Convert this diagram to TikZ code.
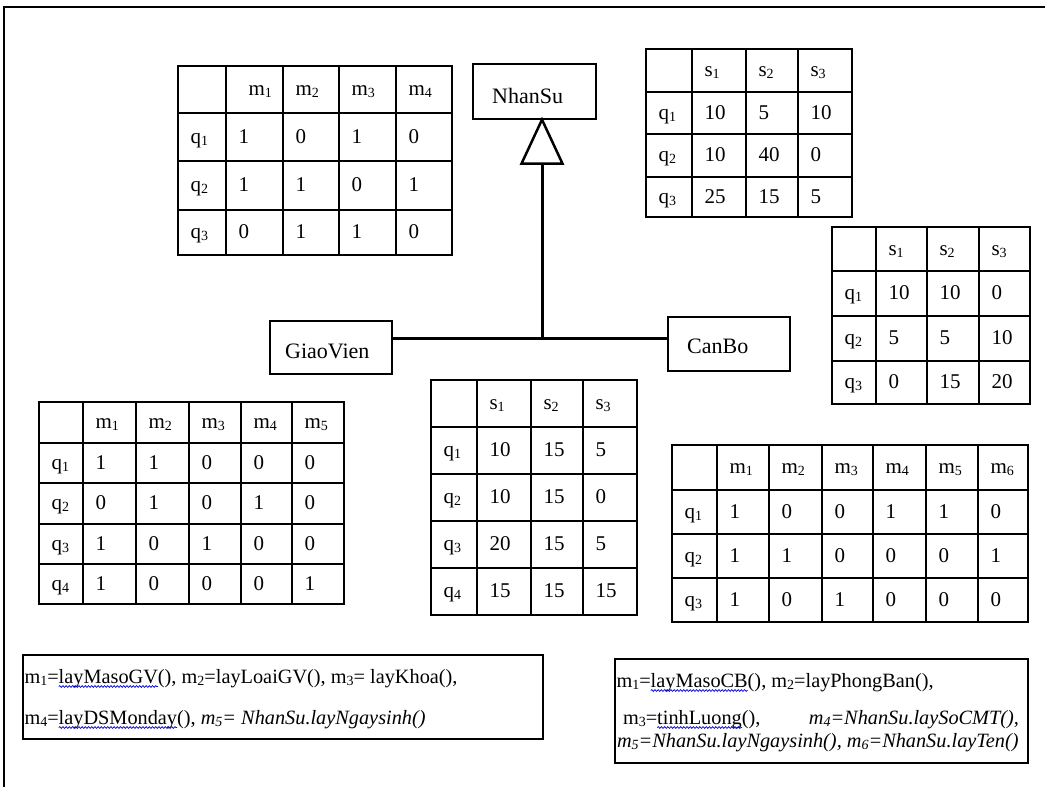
\documentclass[tikz,border=0pt]{standalone}
\usepackage{fontspec}
\setmainfont{Liberation Serif}
\usetikzlibrary{calc,decorations.pathmorphing}
\newcommand\ix[1]{\raisebox{-2pt}{\fontsize{14}{14}\selectfont #1}}
\newcommand\tgrid[6]{%
  \foreach \gx in {#1} {\draw[gridline] (\gx,#5) -- (\gx,#6);}
  \foreach \gy in {#2} {\draw[gridline] (#3,\gy) -- (#4,\gy);}}
\newcommand\trow[4]{%
  \foreach \txt [count=\i] in {#4} {%
    \pgfmathsetmacro\xx{{#2}[\i-1]+12.5}%
    \node[cell] (#1-\i) at (\xx,#3) {\txt};}}
\begin{document}
\begin{tikzpicture}[x=1pt,y=-1pt,
  gridline/.style={line width=1.3pt,line cap=rect},
  cell/.style={anchor=base west,inner sep=0pt,outer sep=0pt,font=\fontsize{21}{24}\selectfont},
  txt/.style={anchor=base west,inner sep=0pt,outer sep=0pt,font=\fontsize{20.3}{24}\selectfont},
  umlbox/.style={draw,line width=1.3pt,inner sep=0pt},
  ulbl/.style={anchor=base west,inner sep=0pt,font=\fontsize{22}{26}\selectfont},
  conn/.style={line width=3pt},
  tri/.style={line width=2.5pt,line join=miter},
  tbox/.style={draw,line width=1.4pt,inner sep=0pt},
  wavy/.style={draw=blue!85!black,line width=0.7pt,decorate,decoration={snake,amplitude=0.9pt,segment length=3.2pt}},
  frameline/.style={line width=1.6pt}]
\useasboundingbox (0,0) rectangle (1045,787);
\draw[frameline] (4,787) -- (4,7) -- (1045,7);

% ---------- UML ----------
\node[umlbox,minimum width=123pt,minimum height=55pt] (ns) at (534.5,91.5) {};
\node[ulbl] (nsl) at (492,103) {NhanSu};
\node[umlbox,minimum width=122pt,minimum height=53pt] (gv) at (331,347.5) {};
\node[ulbl] (gvl) at (285,358) {GiaoVien};
\node[umlbox,minimum width=122pt,minimum height=54pt] (cb) at (729,344) {};
\node[ulbl] (cbl) at (687,353) {CanBo};
\coordinate (apex) at ($(ns.south)+(7.5,0)$);
\coordinate (J) at (542,338);
\draw[tri] (apex) -- ++(-20.5,44) -- ++(41,0) -- cycle;
\draw[conn] ($(apex)+(0,44)$) -- (J);
\draw[conn] (gv.east |- J) -- (cb.west |- J);

% ---------- Table A ----------
\tgrid{178,226,283,339,396,452}{66,113,161,210,255}{178}{452}{66}{255}
\trow{Ah}{226,283,339,396}{95.5}{\hspace{10pt}m\ix{1},m\ix{2},m\ix{3},m\ix{4}}
\trow{A1}{178,226,283,339,396}{143}{q\ix{1},1,0,1,0}
\trow{A2}{178,226,283,339,396}{191.5}{q\ix{2},1,1,0,1}
\trow{A3}{178,226,283,339,396}{238.5}{q\ix{3},0,1,1,0}

% ---------- Table B ----------
\tgrid{646,692,746,798,852}{49,92,134,177,217}{646}{852}{49}{217}
\trow{Bh}{692,746,798}{76.5}{s\ix{1},s\ix{2},s\ix{3}}
\trow{B1}{646,692,746,798}{119}{q\ix{1},10,5,10}
\trow{B2}{646,692,746,798}{161.5}{q\ix{2},10,40,0}
\trow{B3}{646,692,746,798}{203}{q\ix{3},25,15,5}

% ---------- Table C ----------
\tgrid{832,876,927,979,1030}{227,271,316,361,404}{832}{1030}{227}{404}
\trow{Ch}{876,927,979}{255}{s\ix{1},s\ix{2},s\ix{3}}
\trow{C1}{832,876,927,979}{299.5}{q\ix{1},10,10,0}
\trow{C2}{832,876,927,979}{344.5}{q\ix{2},5,5,10}
\trow{C3}{832,876,927,979}{388.5}{q\ix{3},0,15,20}

% ---------- Table D ----------
\tgrid{39,83,136,189,241,292,344}{402,443,483,524,564,604}{39}{344}{402}{604}
\trow{Dh}{83,136,189,241,292}{428.5}{m\ix{1},m\ix{2},m\ix{3},m\ix{4},m\ix{5}}
\trow{D1}{39,83,136,189,241,292}{469}{q\ix{1},1,1,0,0,0}
\trow{D2}{39,83,136,189,241,292}{509.5}{q\ix{2},0,1,0,1,0}
\trow{D3}{39,83,136,189,241,292}{550}{q\ix{3},1,0,1,0,0}
\trow{D4}{39,83,136,189,241,292}{590}{q\ix{4},1,0,0,0,1}

% ---------- Table E ----------
\tgrid{431,477,531,583,637}{380,427,474,521,568,615}{431}{637}{380}{615}
\trow{Eh}{477,531,583}{409.5}{s\ix{1},s\ix{2},s\ix{3}}
\trow{E1}{431,477,531,583}{456.5}{q\ix{1},10,15,5}
\trow{E2}{431,477,531,583}{503.5}{q\ix{2},10,15,0}
\trow{E3}{431,477,531,583}{550.5}{q\ix{3},20,15,5}
\trow{E4}{431,477,531,583}{597.5}{q\ix{4},15,15,15}

% ---------- Table F ----------
\tgrid{672,717,769,822,873,926,978,1028}{445,490,534,578,622}{672}{1028}{445}{622}
\trow{Fh}{717,769,822,873,926,978}{473.5}{m\ix{1},m\ix{2},m\ix{3},m\ix{4},m\ix{5},m\ix{6}}
\trow{F1}{672,717,769,822,873,926,978}{518}{q\ix{1},1,0,0,1,1,0}
\trow{F2}{672,717,769,822,873,926,978}{562}{q\ix{2},1,1,0,0,0,1}
\trow{F3}{672,717,769,822,873,926,978}{606}{q\ix{3},1,0,1,0,0,0}

% ---------- Left text box ----------
\node[tbox,minimum width=520pt,minimum height=84pt] (lbox) at (283,697) {};
\node[txt] (l1a) at (24.5,683) {m\ix{1}=};
\node[txt] (l1b) at (l1a.base east) {layMasoGV};
\node[txt] (l1c) at (l1b.base east) {(), m\ix{2}=layLoaiGV(), m\ix{3}= layKhoa(),};
\draw[wavy] ($(l1b.base west)+(0,3.5)$) -- ($(l1b.base east)+(0,3.5)$);
\node[txt] (l2a) at (24.5,724) {m\ix{4}=};
\node[txt] (l2b) at (l2a.base east) {layDSMonday};
\node[txt] (l2c) at (l2b.base east) {(), \textit{m\ix{5}= NhanSu.layNgaysinh()}};
\draw[wavy] ($(l2b.base west)+(0,3.5)$) -- ($(l2b.base east)+(0,3.5)$);

% ---------- Right text box ----------
\node[tbox,minimum width=413pt,minimum height=104pt] (rbox) at (821.5,711) {};
\node[txt] (r1a) at (616.5,687) {m\ix{1}=};
\node[txt] (r1b) at (r1a.base east) {layMasoCB};
\node[txt] (r1c) at (r1b.base east) {(), m\ix{2}=layPhongBan(),};
\draw[wavy] ($(r1b.base west)+(0,3.5)$) -- ($(r1b.base east)+(0,3.5)$);
\node[txt] (r2a) at (623,724) {m\ix{3}=};
\node[txt] (r2b) at (r2a.base east) {tinhLuong};
\node[txt] (r2c) at (r2b.base east) {(),};
\draw[wavy] ($(r2b.base west)+(0,3.5)$) -- ($(r2b.base east)+(0,3.5)$);
\node[txt,anchor=base east] (r2d) at (1019,724) {\textit{m\ix{4}=NhanSu.laySoCMT(),}};
\node[txt] (r3) at (617,747) {\textit{m\ix{5}=NhanSu.layNgaysinh(), m\ix{6}=NhanSu.layTen()}};
\end{tikzpicture}
\end{document}
